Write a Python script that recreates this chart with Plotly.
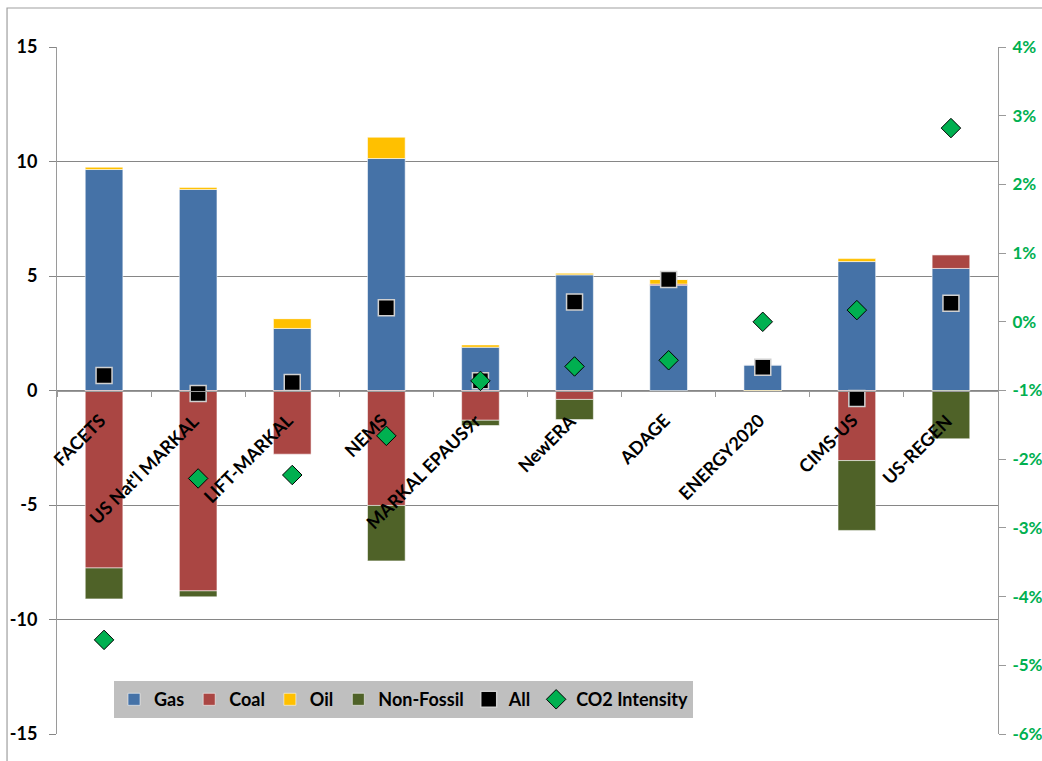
import plotly.graph_objects as go

categories = ["FACETS", "US Nat'l MARKAL", "LIFT-MARKAL", "NEMS", "MARKAL EPAUS9r",
              "NewERA", "ADAGE", "ENERGY2020", "CIMS-US", "US-REGEN"]
gas = [9.65, 8.78, 2.71, 10.13, 1.89, 5.05, 4.60, 1.12, 5.63, 5.33]
coal = [-7.75, -8.75, -2.78, -5.02, -1.30, -0.39, 0.05, 0.0, -3.06, 0.60]
oil = [0.10, 0.09, 0.43, 0.93, 0.10, 0.07, 0.20, -0.06, 0.13, 0.0]
non_fossil = [-1.35, -0.26, 0.0, -2.42, -0.23, -0.88, 0.0, 0.0, -3.05, -2.11]
all_sources = [0.65, -0.13, 0.35, 3.61, 0.43, 3.86, 4.85, 1.02, -0.35, 3.81]
co2_intensity_pct = [-4.63, -2.28, -2.23, -1.66, -0.86, -0.65, -0.56, 0.0, 0.17, 2.82]

left_ticks = [-15, -10, -5, 0, 5, 10, 15]
right_ticks_pct = [-6, -5, -4, -3, -2, -1, 0, 1, 2, 3, 4]

FONT = "Lato"
GRID = "#868686"
AXIS = "#9a9a9a"

fig = go.Figure()
bar_line = dict(color="rgba(255,255,255,0.55)", width=1)
for name, vals, col in [("Gas", gas, "#4572A7"), ("Coal", coal, "#AA4643"),
                        ("Oil", oil, "#FFC000"), ("Non-Fossil", non_fossil, "#4F6228")]:
    fig.add_trace(go.Bar(x=categories, y=vals, name="<b>%s</b>" % name,
                         marker=dict(color=col, line=bar_line)))

fig.add_trace(go.Scatter(x=categories, y=all_sources, name="<b>All</b>", mode="markers",
                         marker=dict(symbol="square", size=16, color="black",
                                     line=dict(color="#d0d0d0", width=1.5))))
fig.add_trace(go.Scatter(x=categories, y=[v / 100 for v in co2_intensity_pct],
                         name="<b>CO2 Intensity</b>", mode="markers", yaxis="y2",
                         marker=dict(symbol="diamond", size=15, color="#00B050",
                                     line=dict(color="black", width=1))))

for c in categories:
    fig.add_annotation(x=c, y=0, xref="x", yref="y", text="<b>%s</b>" % c, showarrow=False,
                       textangle=-45, xanchor="right", yanchor="top",
                       xshift=8, yshift=-16,
                       font=dict(family=FONT, size=18, color="black"))

# outer chart frame
fig.add_shape(type="rect", xref="paper", yref="paper",
              x0=-0.0531, x1=1.06, y0=-0.06, y1=1.0568,
              line=dict(color="#a0a0a0", width=1.2), fillcolor="rgba(0,0,0,0)")

fig.update_layout(
    width=1042, height=761,
    margin=dict(l=57, r=44, t=47, b=27, autoexpand=False),
    paper_bgcolor="white", plot_bgcolor="white",
    barmode="relative", bargap=0.6,
    font=dict(family=FONT, size=18, color="black"),
    xaxis=dict(type="category", categoryorder="array", categoryarray=categories,
               anchor="free", position=0.5, showline=True, linecolor=AXIS, linewidth=1,
               ticks="outside", tickson="boundaries", ticklen=5, tickcolor=AXIS,
               showticklabels=False, showgrid=False, zeroline=False, automargin=False,
               range=[-0.5, len(categories) - 0.5]),
    yaxis=dict(range=[-15, 15], tickvals=left_ticks,
               ticktext=["<b>%d</b>" % v for v in left_ticks],
               showgrid=True, gridcolor=GRID, automargin=False,
               gridwidth=1, zeroline=False, showline=True, linecolor=AXIS,
               ticks="outside", ticklen=7, tickcolor=GRID, ticklabelstandoff=8,
               tickfont=dict(family=FONT, size=18, color="black")),
    yaxis2=dict(range=[-0.06, 0.04], overlaying="y", side="right", automargin=False,
                tickvals=[v / 100 for v in right_ticks_pct],
                ticktext=["<b>%d%%</b>" % v for v in right_ticks_pct],
                showgrid=False, zeroline=False, showline=True, linecolor=AXIS,
                ticks="outside", ticklen=7, tickcolor=AXIS, ticklabelstandoff=3,
                tickfont=dict(family=FONT, size=17, color="#00B050")),
    legend=dict(orientation="h", x=0.0606, y=0.077, xanchor="left", yanchor="top",
                bgcolor="#bfbfbf", font=dict(family=FONT, size=18, color="black"),
                traceorder="normal", itemwidth=30, tracegroupgap=0),
    showlegend=True,
)

fig.write_html("out.html")
